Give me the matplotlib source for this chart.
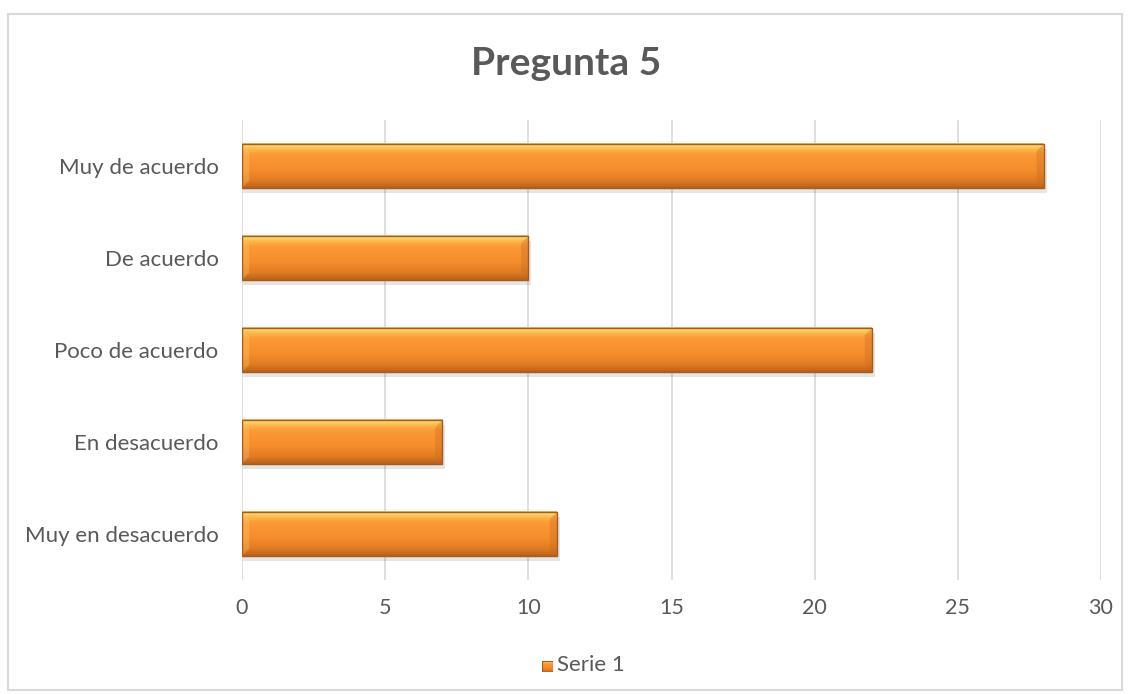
import numpy as np
import matplotlib
matplotlib.use("Agg")
import matplotlib.pyplot as plt
from matplotlib.colors import to_rgb
from matplotlib.patches import Rectangle, Polygon

categories = ["Muy en desacuerdo", "En desacuerdo", "Poco de acuerdo", "De acuerdo", "Muy de acuerdo"]
values = [11, 7, 22, 10, 28]
series_name = "Serie 1"
title = "Pregunta 5"
xticks = [0, 5, 10, 15, 20, 25, 30]

plt.rcParams["font.family"] = ["Lato", "DejaVu Sans"]
TXT = "#595959"
W, H = 1132, 694

# vertical gradient for the bars (top -> bottom)
stops = [(0.00, "#F6B36A"), (0.04, "#FFE07A"), (0.12, "#FDBA4E"), (0.25, "#FB9A35"),
         (0.60, "#F58D2C"), (0.85, "#DE7A22"), (1.00, "#B8621C")]
n = 64
ts = np.linspace(0, 1, n)
grad = np.zeros((n, 1, 3))
for c in range(3):
    grad[:, 0, c] = np.interp(ts, [s[0] for s in stops], [to_rgb(s[1])[c] for s in stops])

fig = plt.figure(figsize=(W / 100, H / 100), dpi=100)
fig.patches.append(Rectangle((8 / W, 4 / H), 1114 / W, 676 / H,
                             transform=fig.transFigure, fill=False,
                             edgecolor="#D9D9D9", linewidth=1.5))

ax = fig.add_axes([242 / W, 114 / H, 859 / W, 460 / H])
h = 0.48
ypos = np.arange(len(categories))
for y, v in zip(ypos, values):
    # shadow
    ax.add_patch(Rectangle((0.05, y - h / 2 - 0.05), v + 0.05, h,
                           facecolor="#000000", alpha=0.10, edgecolor="none", zorder=2))
    ax.imshow(grad, extent=(0, v, y - h / 2, y + h / 2), aspect="auto",
              origin="upper", zorder=3, interpolation="bilinear")
    # bevel at the ends
    b = 0.25
    ax.add_patch(Polygon([(0, y + h / 2), (b, y + h / 2 - 0.08), (b, y - h / 2 + 0.08), (0, y - h / 2)],
                         closed=True, facecolor="#FFC870", alpha=0.35, edgecolor="none", zorder=3.5))
    ax.add_patch(Polygon([(v, y + h / 2), (v - b, y + h / 2 - 0.08), (v - b, y - h / 2 + 0.08), (v, y - h / 2)],
                         closed=True, facecolor="#C86A1E", alpha=0.35, edgecolor="none", zorder=3.5))
    ax.add_patch(Rectangle((0, y - h / 2), v, h, fill=False,
                           edgecolor="#A65A1C", linewidth=1.0, zorder=4))

ax.set_xlim(0, 30)
ax.set_ylim(-0.5, len(categories) - 0.5)
ax.set_xticks(xticks)
ax.set_yticks(ypos)
ax.set_yticklabels(categories)
ax.xaxis.grid(True, color="#D9D9D9", linewidth=1.2, zorder=0)
ax.set_axisbelow(True)
for s in ax.spines.values():
    s.set_visible(False)
ax.tick_params(axis="y", length=0, labelsize=16, labelcolor=TXT, pad=17)
ax.tick_params(axis="x", length=0, labelsize=15.5, labelcolor=TXT, pad=13)

fig.text(0.5, (H - 75) / H, title, ha="center", va="baseline", fontsize=28,
         fontweight="bold", color=TXT)

# legend
lax = fig.add_axes([542 / W, (H - 672) / H, 11 / W, 11 / H])
lax.imshow(grad, aspect="auto", extent=(0, 1, 0, 1))
lax.add_patch(Rectangle((0, 0), 1, 1, fill=False, edgecolor="#A65A1C", linewidth=0.8))
lax.set_axis_off()
fig.text(557 / W, (H - 671) / H, series_name, ha="left", va="baseline",
         fontsize=16, color=TXT)

fig.savefig("out.png", dpi=100)
